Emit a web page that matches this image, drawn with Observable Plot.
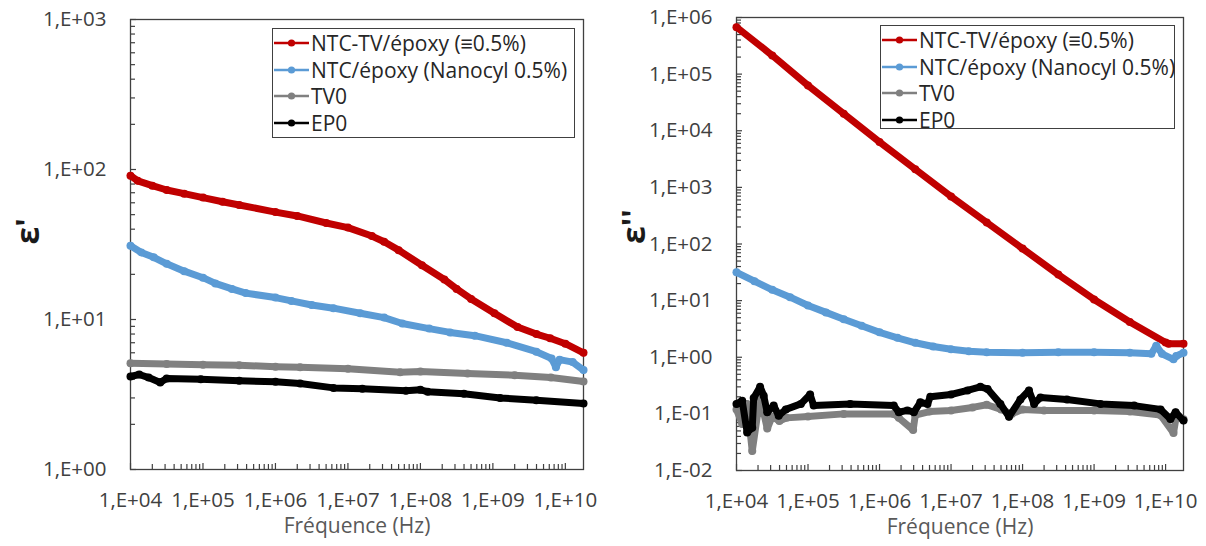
<!DOCTYPE html>
<html><head><meta charset="utf-8">
<script src="https://cdn.jsdelivr.net/npm/d3@7"></script>
<script src="https://cdn.jsdelivr.net/npm/@observablehq/plot@0.6"></script>
<style>
body{margin:0;background:#fff;}
#wrap{display:flex;width:1206px;height:546px;overflow:hidden;}
.panel{position:relative;width:603px;height:546px;}
.legend{position:absolute;border:1px solid #404040;background:#fff;font-family:'Open Sans',sans-serif;font-size:21px;color:#262626;box-sizing:border-box;padding-top:1px;}
.row{display:flex;align-items:center;height:26.5px;white-space:nowrap;}
.row svg{flex:none;margin-right:1px;}
</style></head><body>
<div id="wrap"><div class="panel" id="p1"></div><div class="panel" id="p2"></div></div>
<script>
// ---------- shared ----------
const seriesNames = ["NTC-TV/époxy (≡0.5%)", "NTC/époxy (Nanocyl 0.5%)", "TV0", "EP0"];
const seriesColors = ["#C00000", "#5B9BD5", "#808080", "#000000"];
const xTitle = "Fréquence (Hz)";
const xTicks = [1e4, 1e5, 1e6, 1e7, 1e8, 1e9, 1e10];
const xTickLabels = ["1,E+04", "1,E+05", "1,E+06", "1,E+07", "1,E+08", "1,E+09", "1,E+10"];
const xDomain = [1e4, 1.78e10];

// ---------- left panel: ε' ----------
const leftTitle = "ε'";
const leftYTicks = [1, 10, 100, 1000];
const leftYTickLabels = ["1,E+00", "1,E+01", "1,E+02", "1,E+03"];

const redLeftF = [1e4, 1.26e4, 2e4, 3.16e4, 5.5e4, 1e5, 1.86e5, 3.16e5, 1e6, 2e6, 5.01e6, 1e7, 2.14e7, 3.16e7, 5.01e7, 1.05e8, 2.14e8, 3.16e8, 5.01e8, 1.05e9, 2.19e9, 3.98e9, 6.17e9, 1e10, 1.78e10];
const redLeftV = [91, 84, 78, 73, 69, 65, 61, 58, 52, 49, 44, 41, 36, 33, 29, 23, 18.5, 16, 13.7, 11.0, 8.9, 8.0, 7.5, 6.9, 6.0];

const blueLeftF = [1e4, 1.41e4, 2.09e4, 3.16e4, 5.5e4, 1e5, 1.48e5, 2.51e5, 3.89e5, 1e6, 1.66e6, 3.16e6, 6.31e6, 1.48e7, 3.16e7, 5.62e7, 1.32e8, 2.57e8, 5.62e8, 1.55e9, 3.98e9, 6.46e9, 7.41e9, 8.32e9, 1.26e10, 1.78e10];
const blueLeftV = [31, 28, 26, 23.5, 21, 19, 17.4, 16, 15, 14, 13.3, 12.5, 11.9, 11.0, 10.3, 9.4, 8.7, 8.2, 7.8, 7.0, 6.1, 5.5, 4.8, 5.4, 5.2, 4.6];

const grayLeftF = [1e4, 3.16e4, 1e5, 3.16e5, 1e6, 2.19e6, 1e7, 5.25e7, 1e8, 4.47e8, 2e9, 6.31e9, 1.78e10];
const grayLeftV = [5.1, 5.05, 5.0, 4.95, 4.85, 4.8, 4.7, 4.45, 4.5, 4.37, 4.25, 4.1, 3.86];

const blackLeftF = [1e4, 1.32e4, 1.78e4, 2.57e4, 3.16e4, 9.33e4, 3.16e5, 1e6, 2.19e6, 6.31e6, 1.58e7, 6.31e7, 1e8, 1.26e8, 3.98e8, 1.26e9, 3.98e9, 1.78e10];
const blackLeftV = [4.17, 4.3, 4.1, 3.8, 4.05, 4.0, 3.9, 3.85, 3.74, 3.5, 3.45, 3.35, 3.4, 3.3, 3.2, 3.0, 2.9, 2.75];

// ---------- right panel: ε'' ----------
const rightTitle = "ε''";
const rightYTicks = [0.01, 0.1, 1, 10, 100, 1000, 1e4, 1e5, 1e6];
const rightYTickLabels = ["1,E-02", "1,E-01", "1,E+00", "1,E+01", "1,E+02", "1,E+03", "1,E+04", "1,E+05", "1,E+06"];

const redRightF = [1e4, 3.16e4, 1e5, 3.16e5, 1e6, 3.16e6, 1e7, 3.16e7, 1e8, 3.16e8, 1e9, 3.16e9, 1e10, 1.1e10, 1.78e10];
const redRightV = [676000, 214000, 63100, 19950, 6310, 2090, 692, 240, 83, 28.8, 10.5, 4.2, 1.82, 1.74, 1.74];

const blueRightF = [1e4, 1.78e4, 3.16e4, 5.62e4, 1e5, 1.78e5, 3.16e5, 5.62e5, 1e6, 1.78e6, 3.16e6, 5.62e6, 1e7, 1.78e7, 3.16e7, 1e8, 3.16e8, 1e9, 3.16e9, 6.31e9, 7.41e9, 8.91e9, 1.29e10, 1.41e10, 1.78e10];
const blueRightV = [31.6, 22, 15.5, 11.5, 8.2, 6.2, 4.7, 3.6, 2.75, 2.2, 1.8, 1.55, 1.38, 1.28, 1.22, 1.2, 1.22, 1.22, 1.2, 1.15, 1.6, 1.15, 0.92, 1.05, 1.2];

const grayRightF = [1e4, 1.2e4, 1.41e4, 1.66e4, 2.14e4, 2.69e4, 3.16e4, 3.98e4, 5.01e4, 1e5, 3.16e5, 1.58e6, 1.86e6, 2.95e6, 3.16e6, 5.01e6, 1e7, 2e7, 3.16e7, 5.01e7, 7.08e7, 1e8, 2e8, 1e9, 3.16e9, 8.51e9, 1.29e10, 1.41e10, 1.78e10];
const grayRightV = [0.12, 0.066, 0.15, 0.022, 0.2, 0.055, 0.09, 0.075, 0.085, 0.09, 0.10, 0.10, 0.085, 0.052, 0.095, 0.11, 0.115, 0.13, 0.145, 0.12, 0.10, 0.12, 0.115, 0.115, 0.11, 0.095, 0.046, 0.09, 0.08];

const blackRightF = [1e4, 1.2e4, 1.41e4, 1.66e4, 1.74e4, 2.14e4, 2.4e4, 2.69e4, 3.31e4, 3.89e4, 4.9e4, 7.94e4, 1.07e5, 1.2e5, 3.89e5, 1.58e6, 1.86e6, 2.45e6, 3.02e6, 3.72e6, 4.68e6, 5.13e6, 1e7, 1.7e7, 2.57e7, 3.24e7, 4.9e7, 6.46e7, 9.33e7, 1.23e8, 1.45e8, 1.78e8, 4.17e8, 1.23e9, 3.63e9, 8.51e9, 1.17e10, 1.38e10, 1.78e10];
const blackRightV = [0.15, 0.17, 0.047, 0.057, 0.19, 0.30, 0.21, 0.107, 0.14, 0.093, 0.12, 0.15, 0.22, 0.14, 0.15, 0.14, 0.107, 0.115, 0.107, 0.16, 0.15, 0.20, 0.22, 0.26, 0.30, 0.275, 0.15, 0.089, 0.18, 0.26, 0.15, 0.195, 0.18, 0.15, 0.14, 0.12, 0.081, 0.107, 0.076];

// ---------- helpers ----------
function toRows(fs, vs, s) { return fs.map((f, i) => ({f, v: vs[i], s})); }
function minorTicks(decades, max) {
  const out = [];
  decades.forEach(d => { for (let k = 2; k <= 9; k++) { const t = k * d; if (t < max) out.push(t); } });
  return out;
}
const font = "'Open Sans', sans-serif";
const frameColor = "#404040";

function panel({series, yDomain, yTicks, yTickLabels, title, mL, mR, mT, mB}) {
  const W = 603, H = 546;
  const fw = W - mL - mR, fh = H - mT - mB;
  const xMap = new Map(xTicks.map((t, i) => [t, xTickLabels[i]]));
  const yMap = new Map(yTicks.map((t, i) => [t, yTickLabels[i]]));
  const xMinor = minorTicks(xTicks, xDomain[1]);
  const yMinor = minorTicks(yTicks, yDomain[1]);
  const marks = [
    Plot.axisX(xTicks, {tickSize: 0, tickPadding: 23, tickFormat: d => xMap.get(d), label: null, fill: "#404040", fontSize: 20.5, fontFamily: font}),
    Plot.axisY(yTicks, {tickSize: 0, tickPadding: 24, tickFormat: d => yMap.get(d), label: null, fill: "#404040", fontSize: 20.5, fontFamily: font}),
    Plot.tickY(yTicks, {y: d => d, insetRight: fw - 6, stroke: frameColor, strokeWidth: 1.2}),
    Plot.tickY(yMinor, {y: d => d, insetRight: fw - 5, stroke: frameColor, strokeWidth: 1.2}),
    Plot.tickX(xTicks, {x: d => d, insetTop: fh - 6, stroke: frameColor, strokeWidth: 1.2}),
    Plot.tickX(xMinor, {x: d => d, insetTop: fh - 5, stroke: frameColor, strokeWidth: 1.2}),
    Plot.frame({stroke: frameColor, strokeWidth: 1.3})
  ];
  series.forEach((rows, i) => {
    marks.push(Plot.line(rows, {x: "f", y: "v", stroke: seriesColors[i], strokeWidth: 7, strokeLinejoin: "round", strokeLinecap: "round"}));
    marks.push(Plot.dot(rows, {x: "f", y: "v", r: 4, fill: seriesColors[i], stroke: "none"}));
  });
  marks.push(Plot.text([title], {frameAnchor: "left", dx: -102, rotate: -90, fontSize: 32, fontWeight: "bold", fill: "#1a1a1a", fontFamily: font}));
  marks.push(Plot.text([xTitle], {frameAnchor: "bottom", dy: 63, fontSize: 21, fill: "#595959", fontFamily: font}));
  return Plot.plot({
    width: W, height: H,
    marginLeft: mL, marginRight: mR, marginTop: mT, marginBottom: mB,
    x: {type: "log", domain: xDomain},
    y: {type: "log", domain: yDomain},
    style: {fontFamily: font, fontSize: "20px", color: "#404040", background: "white", overflow: "visible"},
    marks
  });
}

function legend(left, top, width, height) {
  const div = document.createElement("div");
  div.className = "legend";
  Object.assign(div.style, {left: left + "px", top: top + "px", width: width + "px", height: height + "px"});
  seriesNames.forEach((n, i) => {
    const row = document.createElement("div");
    row.className = "row";
    row.innerHTML = `<svg width="37" height="26"><line x1="1" x2="36" y1="13" y2="13" stroke="${seriesColors[i]}" stroke-width="2.5"/><circle cx="18.5" cy="13" r="3.6" fill="${seriesColors[i]}"/></svg><span>${n}</span>`;
    div.appendChild(row);
  });
  return div;
}

const leftSeries = [toRows(redLeftF, redLeftV, 0), toRows(blueLeftF, blueLeftV, 1), toRows(grayLeftF, grayLeftV, 2), toRows(blackLeftF, blackLeftV, 3)];
const rightSeries = [toRows(redRightF, redRightV, 0), toRows(blueRightF, blueRightV, 1), toRows(grayRightF, grayRightV, 2), toRows(blackRightF, blackRightV, 3)];

const p1 = document.getElementById("p1");
p1.appendChild(panel({series: leftSeries, yDomain: [1, 1000], yTicks: leftYTicks, yTickLabels: leftYTickLabels, title: leftTitle, mL: 130, mR: 20, mT: 19, mB: 77}));
p1.appendChild(legend(272, 28, 303, 110));

const p2 = document.getElementById("p2");
p2.appendChild(panel({series: rightSeries, yDomain: [0.01, 1e6], yTicks: rightYTicks, yTickLabels: rightYTickLabels, title: rightTitle, mL: 133, mR: 23, mT: 17, mB: 76}));
p2.appendChild(legend(277, 25, 295, 104));
</script>
</body></html>
